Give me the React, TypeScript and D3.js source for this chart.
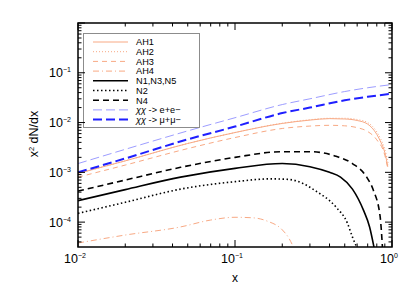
import React from "react";
import * as d3 from "d3";

type Pt = [number, number];

const eeX = [0.01, 0.02, 0.05, 0.1, 0.2, 0.3, 0.5, 0.7, 1.0];
const eeY = [1.5e-3, 2.9e-3, 6.8e-3, 1.25e-2, 2.3e-2, 3.0e-2, 4.2e-2, 5.0e-2, 5.8e-2];

const mumuX = [0.01, 0.02, 0.05, 0.1, 0.2, 0.3, 0.5, 0.7, 1.0];
const mumuY = [1.0e-3, 1.9e-3, 4.6e-3, 8.3e-3, 1.55e-2, 2.0e-2, 2.8e-2, 3.3e-2, 3.8e-2];

const ah1X = [0.01, 0.02, 0.05, 0.1, 0.2, 0.3, 0.4, 0.5, 0.6, 0.7, 0.8, 0.85, 0.9, 0.94];
const ah1Y = [9.5e-4, 1.7e-3, 3.8e-3, 6.3e-3, 9.6e-3, 1.12e-2, 1.2e-2, 1.18e-2, 1.1e-2, 9.3e-3, 5.8e-3, 4.0e-3, 2.5e-3, 1.3e-3];

const ah2X = [0.01, 0.02, 0.05, 0.1, 0.2, 0.3, 0.4, 0.5, 0.6, 0.7, 0.8, 0.85, 0.9, 0.95];
const ah2Y = [9.5e-4, 1.7e-3, 3.8e-3, 6.3e-3, 9.7e-3, 1.14e-2, 1.22e-2, 1.22e-2, 1.15e-2, 1.0e-2, 6.5e-3, 4.6e-3, 2.9e-3, 1.4e-3];

const ah3X = [0.01, 0.02, 0.05, 0.1, 0.2, 0.3, 0.4, 0.5, 0.6, 0.7, 0.8, 0.9, 0.94];
const ah3Y = [8.0e-4, 1.4e-3, 3.0e-3, 5.0e-3, 7.6e-3, 8.5e-3, 8.8e-3, 8.6e-3, 7.9e-3, 6.6e-3, 4.5e-3, 2.2e-3, 1.2e-3];

const ah4X = [0.01, 0.02, 0.045, 0.07, 0.1, 0.13, 0.16, 0.2, 0.22, 0.235];
const ah4Y = [3.8e-5, 5.5e-5, 8.0e-5, 1.1e-4, 1.25e-4, 1.22e-4, 1.05e-4, 7.0e-5, 4.8e-5, 3.2e-5];

const n1X = [0.01, 0.02, 0.045, 0.1, 0.2, 0.3, 0.4, 0.47, 0.56, 0.66, 0.72, 0.77];
const n1Y = [2.7e-4, 4.5e-4, 8.0e-4, 1.2e-3, 1.5e-3, 1.3e-3, 1.0e-3, 8.0e-4, 4.6e-4, 1.7e-4, 8.0e-5, 3.0e-5];

const n2X = [0.01, 0.02, 0.045, 0.1, 0.17, 0.22, 0.27, 0.32, 0.44, 0.52, 0.56, 0.6];
const n2Y = [1.5e-4, 2.5e-4, 4.6e-4, 6.5e-4, 7.4e-4, 7.2e-4, 6.0e-4, 4.4e-4, 2.0e-4, 9.5e-5, 5.0e-5, 3.0e-5];

const n4X = [0.01, 0.02, 0.045, 0.1, 0.2, 0.3, 0.44, 0.56, 0.69, 0.76, 0.84, 0.87];
const n4Y = [4.2e-4, 7.0e-4, 1.26e-3, 2.0e-3, 2.6e-3, 2.6e-3, 2.1e-3, 1.5e-3, 8.0e-4, 4.4e-4, 1.3e-4, 3.0e-5];

const xTickLabels = ["−2", "−1", "0"];
const yTickLabels = ["−4", "−3", "−2", "−1"];

const ORANGE = "#f8a984";

const series = [
  { name: "AH1", xs: ah1X, ys: ah1Y, color: ORANGE, width: 1, dash: "" },
  { name: "AH2", xs: ah2X, ys: ah2Y, color: ORANGE, width: 1, dash: "1,2" },
  { name: "AH3", xs: ah3X, ys: ah3Y, color: ORANGE, width: 1, dash: "5,4" },
  { name: "AH4", xs: ah4X, ys: ah4Y, color: ORANGE, width: 1, dash: "6,3,1,3" },
  { name: "N1,N3,N5", xs: n1X, ys: n1Y, color: "#000000", width: 1.6, dash: "" },
  { name: "N2", xs: n2X, ys: n2Y, color: "#000000", width: 1.6, dash: "1.5,2.5" },
  { name: "N4", xs: n4X, ys: n4Y, color: "#000000", width: 1.6, dash: "6,4" },
  { name: "χχ -> e+e−", xs: eeX, ys: eeY, color: "#9d9dff", width: 1, dash: "9,4" },
  { name: "χχ -> μ+μ−", xs: mumuX, ys: mumuY, color: "#1f1fff", width: 2, dash: "9,4" },
];

const W = 415;
const H = 297;
const L = 78, R = 392, T = 23, B = 247;

export default function App() {
  const x = d3.scaleLog().domain([0.01, 1]).range([L, R]);
  const y = d3.scaleLog().domain([Math.pow(10, -4.5), 1]).range([B, T]);
  const line = d3
    .line<Pt>()
    .x((d) => x(d[0]))
    .y((d) => y(d[1]))
    .curve(d3.curveMonotoneX);

  const xMinor: number[] = [];
  for (let e = -2; e < 0; e++) for (let m = 2; m <= 9; m++) xMinor.push(m * Math.pow(10, e));
  const xMajor = [0.01, 0.1, 1];
  const yMinor: number[] = [];
  for (let e = -5; e < 0; e++)
    for (let m = 2; m <= 9; m++) {
      const v = m * Math.pow(10, e);
      if (v >= Math.pow(10, -4.5) && v <= 1) yMinor.push(v);
    }
  const yMajor = [1e-4, 1e-3, 1e-2, 1e-1, 1];

  const font = "'Liberation Sans', Arial, sans-serif";
  const legX0 = 93, legX1 = 128, legTx = 136, legY0 = 42, legDy = 9.7;

  return (
    <svg width={W} height={H} style={{ position: "absolute", left: 0, top: 0 }} fontFamily={font}>
      <rect x={0} y={0} width={W} height={H} fill="#fff" />
      <defs>
        <clipPath id="plot">
          <rect x={L} y={T} width={R - L} height={B - T} />
        </clipPath>
      </defs>
      <g clipPath="url(#plot)">
        {series.map((s) => (
          <path
            key={s.name}
            d={line(s.xs.map((v, i) => [v, s.ys[i]] as Pt)) || ""}
            fill="none"
            stroke={s.color}
            strokeWidth={s.width}
            strokeDasharray={s.dash}
          />
        ))}
      </g>
      {/* legend */}
      <rect x={83.5} y={33.5} width={116} height={94} fill="#fff" stroke="#8c8c8c" strokeWidth={1} />
      {series.map((s, i) => {
        const yy = legY0 + i * legDy;
        return (
          <g key={"leg" + i}>
            <line x1={legX0} x2={legX1} y1={yy} y2={yy} stroke={s.color} strokeWidth={s.width} strokeDasharray={s.dash} />
            <text x={legTx} y={yy + 3.3} fontSize={9.2} fill="#000">
              {s.name.startsWith("χ") ? (
                <>
                  <tspan fontStyle="italic">χχ</tspan>
                  {s.name.slice(2)}
                </>
              ) : (
                s.name
              )}
            </text>
          </g>
        );
      })}
      {/* frame */}
      <rect x={L} y={T} width={R - L} height={B - T} fill="none" stroke="#000" strokeWidth={1.5} />
      {/* x ticks */}
      {xMinor.map((v) => (
        <g key={"xm" + v}>
          <line x1={x(v)} x2={x(v)} y1={B} y2={B - 3.5} stroke="#000" strokeWidth={1} />
          <line x1={x(v)} x2={x(v)} y1={T} y2={T + 3.5} stroke="#000" strokeWidth={1} />
        </g>
      ))}
      {xMajor.map((v, i) => (
        <g key={"xM" + v}>
          <line x1={x(v)} x2={x(v)} y1={B} y2={B - 7} stroke="#000" strokeWidth={1} />
          <line x1={x(v)} x2={x(v)} y1={T} y2={T + 7} stroke="#000" strokeWidth={1} />
          <text x={x(v) - 3} y={263} fontSize={12.5} textAnchor="middle" fill="#000">
            10<tspan fontSize={7} dy={-5}>{xTickLabels[i]}</tspan>
          </text>
        </g>
      ))}
      {/* y ticks */}
      {yMinor.map((v) => (
        <g key={"ym" + v}>
          <line x1={L} x2={L + 3.5} y1={y(v)} y2={y(v)} stroke="#000" strokeWidth={1} />
          <line x1={R} x2={R - 3.5} y1={y(v)} y2={y(v)} stroke="#000" strokeWidth={1} />
        </g>
      ))}
      {yMajor.map((v) => (
        <g key={"yM" + v}>
          <line x1={L} x2={L + 7} y1={y(v)} y2={y(v)} stroke="#000" strokeWidth={1} />
          <line x1={R} x2={R - 7} y1={y(v)} y2={y(v)} stroke="#000" strokeWidth={1} />
        </g>
      ))}
      {yMajor.slice(0, 4).map((v, i) => (
        <text key={"yl" + v} x={49} y={y(v) + 4.5} fontSize={12.5} fill="#000">
          10<tspan fontSize={7} dy={-5}>{yTickLabels[i]}</tspan>
        </text>
      ))}
      {/* axis labels */}
      <text x={(L + R) / 2} y={282} fontSize={12} textAnchor="middle" fill="#000">
        x
      </text>
      <text transform="translate(38,134) rotate(-90)" fontSize={12.5} textAnchor="middle" fill="#000">
        x<tspan fontSize={7.5} dy={-4.5}>2</tspan>
        <tspan dy={4.5}> dN/dx</tspan>
      </text>
    </svg>
  );
}
